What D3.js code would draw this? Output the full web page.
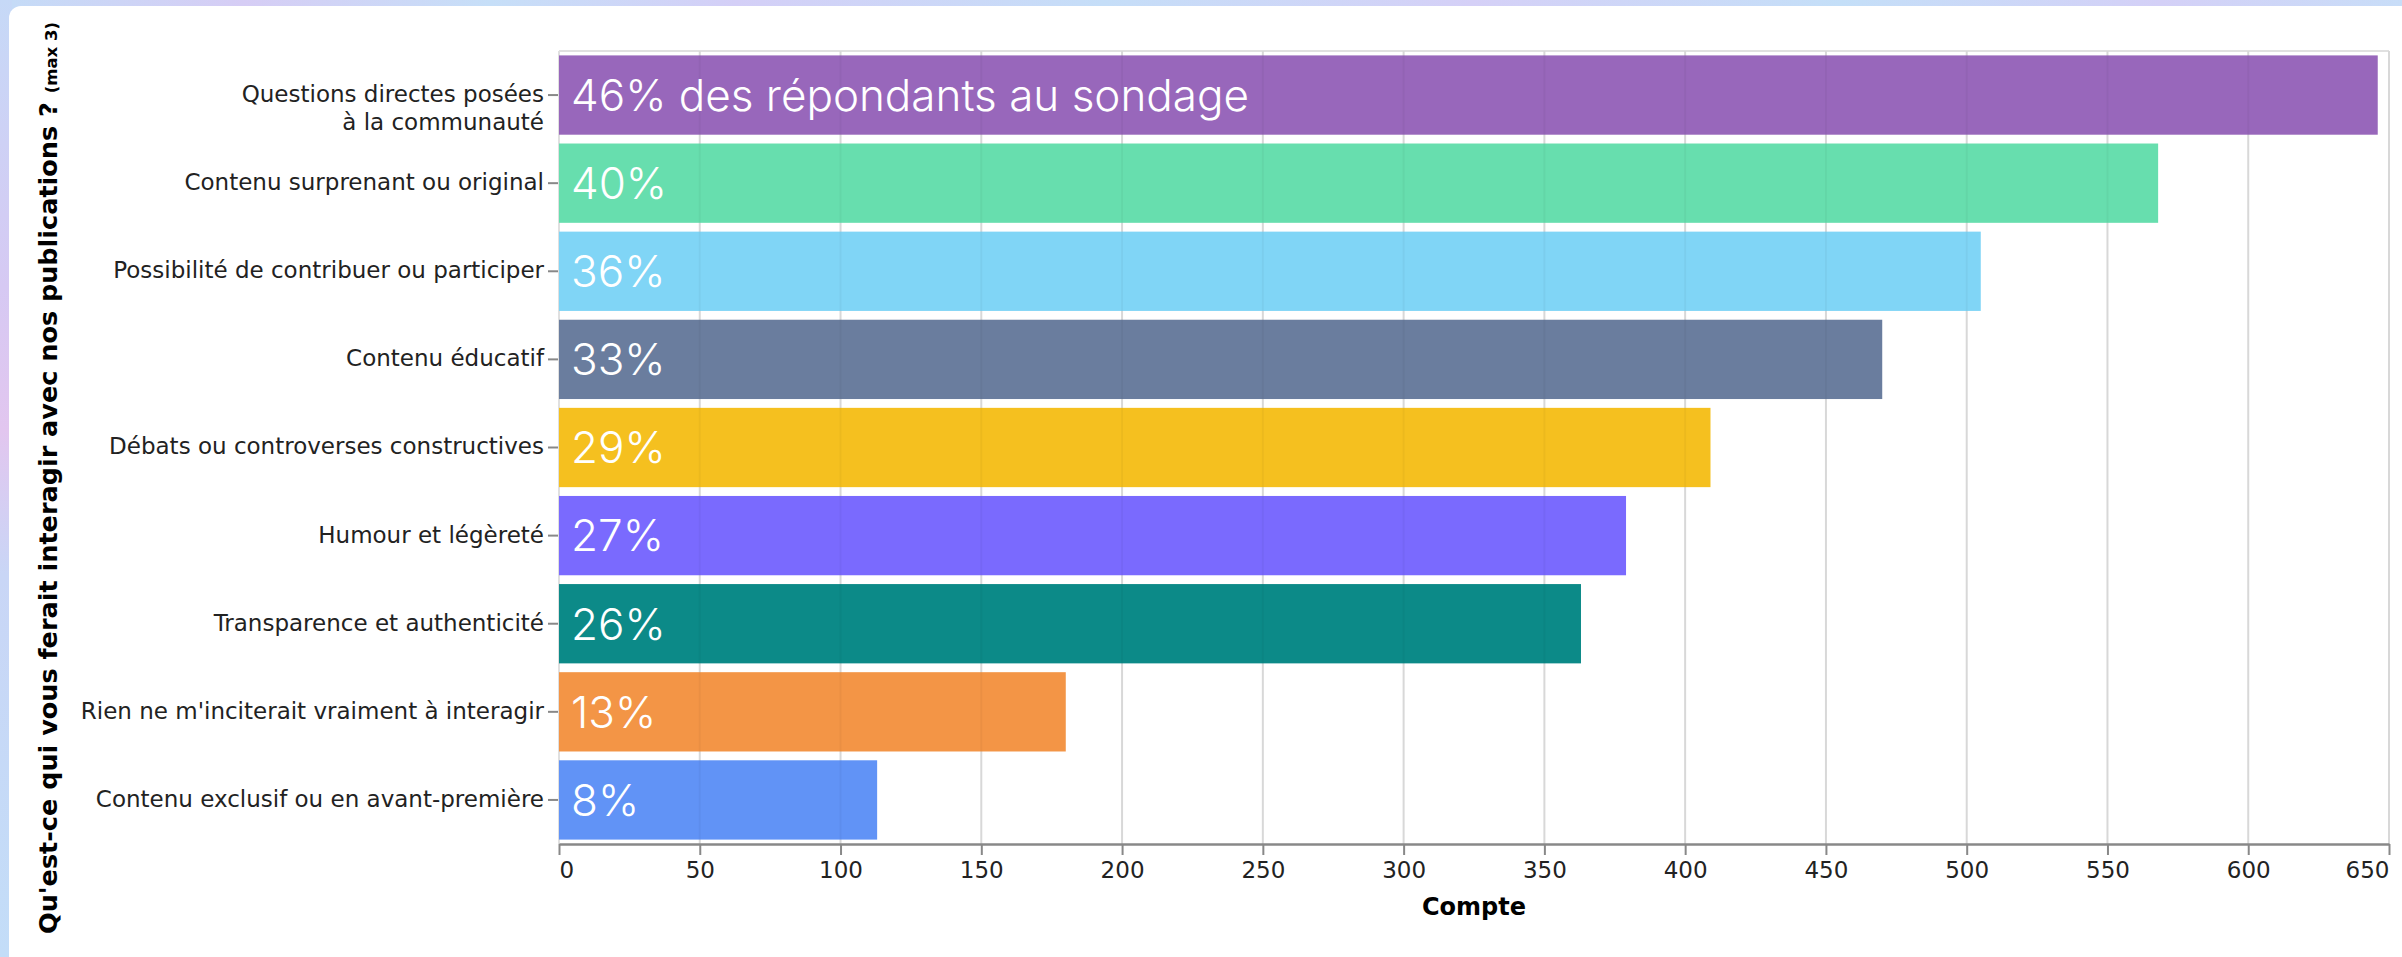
<!DOCTYPE html>
<html>
<head>
<meta charset="utf-8">
<script src="https://cdn.jsdelivr.net/npm/d3@7"></script>
<style>
  html, body { margin: 0; padding: 0; }
  body { width: 2402px; height: 957px; overflow: hidden; }
</style>
</head>
<body>
<svg id="chart" width="2402" height="957"></svg>
<script>
// ---- data ----
const categories = [
  "Questions directes posées\nà la communauté",
  "Contenu surprenant ou original",
  "Possibilité de contribuer ou participer",
  "Contenu éducatif",
  "Débats ou controverses constructives",
  "Humour et légèreté",
  "Transparence et authenticité",
  "Rien ne m'inciterait vraiment à interagir",
  "Contenu exclusif ou en avant-première"
];
const counts = [646, 568, 505, 470, 409, 379, 363, 180, 113];
const percents = ["46%", "40%", "36%", "33%", "29%", "27%", "26%", "13%", "8%"];
const firstLabelSuffix = " des répondants au sondage";
const barColors = ["#9867bb", "#67deae", "#80d5f6", "#6a7d9e", "#f5c01f", "#7a6afe", "#0c8a88", "#f39546", "#6193f6"];
const xTicks = [0, 50, 100, 150, 200, 250, 300, 350, 400, 450, 500, 550, 600, 650];
const xTitle = "Compte";
const yTitle = "Qu'est-ce qui vous ferait interagir avec nos publications ?";
const yTitleNote = "(max 3)";

// ---- layout ----
const W = 2402, H = 957;
const plot = { left: 559, right: 2389, top: 51, bottom: 844 };
const svg = d3.select("#chart");

// background gradient
const defs = svg.append("defs");
const grad = defs.append("linearGradient").attr("id", "bg")
  .attr("x1", "0").attr("y1", "0").attr("x2", "1").attr("y2", "0.15");
const stops = [["0", "#c4dcf7"], ["0.1", "#d6cdf5"], ["0.2", "#c6dff8"], ["0.3", "#d4cff7"],
  ["0.45", "#c5def8"], ["0.6", "#d5d0f7"], ["0.75", "#c4dff8"], ["0.88", "#d4d0f7"], ["1", "#c5e0f8"]];
stops.forEach(s => grad.append("stop").attr("offset", s[0]).attr("stop-color", s[1]));
svg.append("rect").attr("width", W).attr("height", H).attr("fill", "url(#bg)");
const leftGrad = defs.append("linearGradient").attr("id", "bgl")
  .attr("x1", "0").attr("y1", "0").attr("x2", "0").attr("y2", "1");
[["0", "#c6d9f7"], ["0.3", "#d6c9f3"], ["0.45", "#e2c6ef"], ["0.6", "#c9d6f6"], ["1", "#c3ddf8"]]
  .forEach(s => leftGrad.append("stop").attr("offset", s[0]).attr("stop-color", s[1]));
svg.append("rect").attr("x", 0).attr("y", 0).attr("width", 12).attr("height", H).attr("fill", "url(#bgl)");
// white card
svg.append("rect").attr("x", 9).attr("y", 6).attr("width", W + 40).attr("height", H + 40)
  .attr("rx", 12).attr("fill", "#ffffff");

// ---- scales ----
const x = d3.scaleLinear().domain([0, 650]).range([plot.left, plot.right]);
const y = d3.scaleBand().domain(categories).range([plot.top, plot.bottom])
  .paddingInner(0.1).paddingOuter(0.05);

// grid
const grid = svg.append("g");
grid.selectAll("line").data(xTicks).join("line")
  .attr("x1", d => x(d)).attr("x2", d => x(d))
  .attr("y1", plot.top).attr("y2", plot.bottom)
  .attr("stroke", "#e0e0e0").attr("stroke-width", 2);
svg.append("line").attr("x1", plot.left).attr("x2", plot.right)
  .attr("y1", plot.top).attr("y2", plot.top).attr("stroke", "#e0e0e0").attr("stroke-width", 2);

// bars
const data = categories.map((c, i) => ({ c, v: counts[i], p: percents[i], col: barColors[i], i }));
svg.append("g").selectAll("rect").data(data).join("rect")
  .attr("x", x(0)).attr("y", d => y(d.c))
  .attr("width", d => x(d.v) - x(0)).attr("height", y.bandwidth())
  .attr("fill", d => d.col);

// faint grid over bars
svg.append("g").selectAll("line").data(xTicks.slice(1)).join("line")
  .attr("x1", d => x(d)).attr("x2", d => x(d))
  .attr("y1", plot.top).attr("y2", plot.bottom)
  .attr("stroke", "#000").attr("stroke-opacity", 0.035).attr("stroke-width", 2);

// bar labels
svg.append("g").selectAll("text").data(data).join("text")
  .attr("x", x(0) + 12)
  .attr("y", d => y(d.c) + y.bandwidth() / 2)
  .attr("dy", "0.36em")
  .attr("fill", "#ffffff")
  .attr("font-family", "Inter, 'Noto Sans', sans-serif")
  .attr("font-weight", 300)
  .attr("font-size", 44)
  .text(d => d.i === 0 ? d.p + firstLabelSuffix : d.p);

// x axis
const xAxis = d3.axisBottom(x).tickValues(xTicks).tickSize(11).tickPadding(7).tickSizeOuter(0);
const gx = svg.append("g").attr("transform", `translate(0,${plot.bottom})`).call(xAxis);
gx.select(".domain").attr("stroke", "#888").attr("stroke-width", 2.5);
gx.selectAll(".tick line").attr("stroke", "#888").attr("stroke-width", 2);
gx.selectAll(".tick text").attr("fill", "#222")
  .attr("font-family", "'DejaVu Sans', Verdana, sans-serif").attr("font-size", 23)
  .attr("text-anchor", (d, i) => i === 0 ? "start" : (i === xTicks.length - 1 ? "end" : "middle"));

svg.append("text").attr("x", (plot.left + plot.right) / 2).attr("y", 915)
  .attr("text-anchor", "middle").attr("font-family", "'DejaVu Sans', Verdana, sans-serif")
  .attr("font-weight", "bold").attr("font-size", 24).attr("fill", "#000").text(xTitle);

// y axis
const yAxis = d3.axisLeft(y).tickSize(10).tickPadding(4).tickSizeOuter(0);
const gy = svg.append("g").attr("transform", `translate(${plot.left - 1},0)`).call(yAxis);
gy.select(".domain").remove();
gy.selectAll(".tick line").attr("stroke", "#888").attr("stroke-width", 2);
gy.selectAll(".tick text")
  .attr("font-family", "'DejaVu Sans', Verdana, sans-serif").attr("font-size", 23)
  .attr("fill", "#222")
  .each(function (d) {
    const lines = d.split("\n");
    const t = d3.select(this).text(null);
    lines.forEach((ln, k) => {
      t.append("tspan").attr("x", -14).attr("dy", k === 0 ? "0.3em" : "1.2em").text(ln);
    });
  });

// y title
const yt = svg.append("text")
  .attr("transform", `translate(57,478) rotate(-90)`)
  .attr("text-anchor", "middle")
  .attr("font-family", "'DejaVu Sans', Verdana, sans-serif")
  .attr("fill", "#000");
yt.append("tspan").attr("font-weight", "bold").attr("font-size", 25.5).text(yTitle + " ");
yt.append("tspan").attr("font-weight", "bold").attr("font-size", 16.5).text(yTitleNote);
</script>
</body>
</html>
